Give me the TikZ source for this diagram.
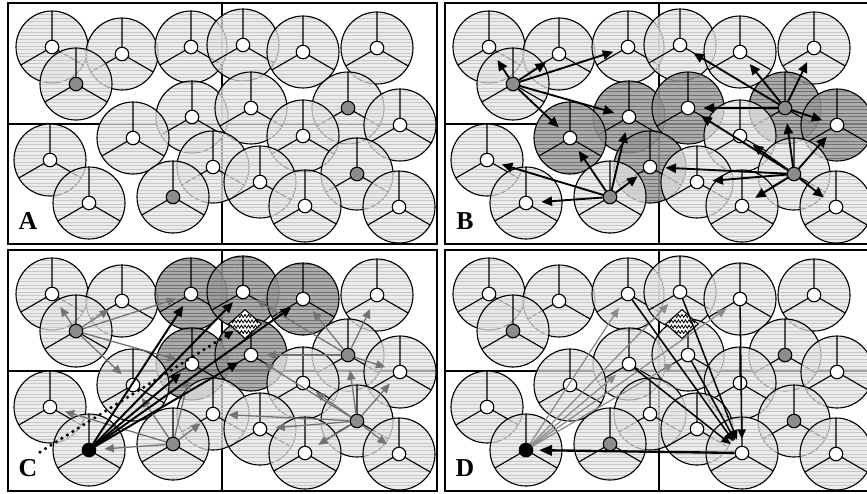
\documentclass[tikz,border=0pt]{standalone}
\usepackage{fontspec}
\setmainfont{Liberation Serif}
\usetikzlibrary{arrows.meta,patterns,shapes.geometric,decorations.pathmorphing}

\makeatletter
\newcommand\inlistTF[4]{\edef\rsk@tmp{\noexpand\in@{,#1,}{,#2,}}\rsk@tmp\ifin@#3\else#4\fi}
\makeatother

\def\nodelist{1/52/47,2/122/54,3/191/47,4/243/45,5/303/52,6/377/48,7/76/84,8/192/117,9/251/108,10/348/108,11/400/125,12/133/138,13/303/136,14/50/160,15/213/167,16/260/182,17/357/174,18/89/203,19/173/197,20/305/206,21/399/207}
\def\arrowlist{7/1,7/2,7/3,7/8,7/12,19/14,19/18,19/12,19/8,19/15,10/4,10/5,10/6,10/9,10/11,17/10,17/11,17/9,17/13,17/15,17/16,17/20,17/21}

\tikzset{
 lightcirc/.style={preaction={fill=black!10, fill opacity=0.7}, pattern=horizontal lines, pattern color=black!22, fill opacity=0.7, draw=black, line width=0.95pt},
 darkcirc/.style={preaction={fill=black!40, fill opacity=0.82}, pattern=horizontal lines, pattern color=black!55, fill opacity=0.82, draw=black, line width=0.95pt},
 spoke/.style={draw=black, line width=0.95pt},
 dot/.style={circle, draw=black, fill=white, line width=0.95pt, minimum size=11.5pt, inner sep=0pt},
 frame/.style={draw=black, line width=1.6pt},
 divider/.style={draw=black, line width=1.1pt},
 lab/.style={font=\fontsize{22}{22}\selectfont\bfseries, inner sep=0pt},
 barrow/.style={draw=black, line width=1.6pt, -{Triangle[length=9pt,width=8pt]}, shorten >=7pt},
 garrow/.style={draw=black!55, line width=1.1pt, -{Triangle[length=8pt,width=7pt]}, shorten >=7pt},
 karrow/.style={draw=black, line width=1.7pt, -{Triangle[length=9pt,width=8pt]}, shorten >=6pt},
 dotline/.style={draw=black, line width=3pt, dash pattern=on 0pt off 5.5pt, line cap=round, -{Triangle[length=8pt,width=7pt]}, shorten >=1pt},
 farrow/.style={draw=black!45, line width=1.1pt, -{Triangle[length=8pt,width=7pt]}, shorten >=8pt},
 carrow/.style={draw=black, line width=1.3pt, -{Triangle[length=8pt,width=7pt]}, shorten >=6pt},
 bigarrow/.style={draw=black, line width=2pt, -{Triangle[length=11pt,width=9pt]}, shorten >=5pt},
 wave/.style={diamond, draw=black, fill=white, line width=0.9pt, minimum width=28pt, minimum height=25pt, inner sep=0pt,
   path picture={\begin{scope}[shift={(path picture bounding box.center)}, rotate=40]
     \foreach \k in {-8,-2.7,2.7,8}
       \draw[line width=0.7pt, decorate, decoration={zigzag, segment length=3pt, amplitude=1.3pt}] (-22,\k) -- (22,\k);
   \end{scope}}},
}

\newcommand\drawpanel[6]{% #1 prefix, #2 dx, #3 dy, #4 dark circles, #5 black nodes, #6 label
\begin{scope}[shift={(#2,#3)}]
 \draw[divider] (222,3) -- (222,244) (8,124) -- (437,124);
 \foreach \i/\x/\y in \nodelist {
   \inlistTF{\i}{#4}{\path[darkcirc] (\x,\y) circle (36);}{\path[lightcirc] (\x,\y) circle (36);}
   \draw[spoke] (\x,\y) -- ++(0,-36) (\x,\y) -- ++(-31.18,18) (\x,\y) -- ++(31.18,18);
 }
 \foreach \i/\x/\y in \nodelist {
   \inlistTF{\i}{#5}{\node[dot, fill=black] (#1\i) at (\x,\y) {};}%
    {\inlistTF{\i}{7,10,17,19}{\node[dot, fill=black!45] (#1\i) at (\x,\y) {};}{\node[dot] (#1\i) at (\x,\y) {};}}
 }
 \draw[frame] (8,3) rectangle (437,244);
 \node[lab] (#1lab) at (28,221) {#6};
\end{scope}}

\begin{document}
\begin{tikzpicture}[x=0.03cm, y=-0.03cm]
\fill[white] (0,0) rectangle (867,493);
\useasboundingbox (0,0) rectangle (867,493);
\clip (0,0) rectangle (867,493);

% Panel A
\drawpanel{a}{0}{0}{}{}{A}

% Panel B
\drawpanel{b}{437}{0}{8,9,10,11,12,15}{}{B}
\foreach \s/\t in \arrowlist \draw[barrow] (b\s) -- (b\t);

% Panel C
\drawpanel{c}{0}{247}{3,4,5,8,9}{18}{C}
\foreach \s/\t in \arrowlist \draw[garrow] (c\s) -- (c\t);
\node[wave] (cwave) at (245,324) {};
\foreach \t in {3,4,5,8,9} \draw[karrow] (c18) -- (c\t);
\coordinate (cdotstart) at (40,452);
\draw[dotline] (cdotstart) -- (cwave);

% Panel D
\drawpanel{d}{437}{247}{}{18}{D}
\node[wave] (dwave) at (682,324) {};
\foreach \t in {3,4,5,8,9} \draw[farrow] (d18) -- (d\t);
\foreach \s in {3,4,5,8,9} \draw[carrow] (d\s) -- (d20);
\draw[bigarrow] (d20) -- (d18);
\end{tikzpicture}
\end{document}
